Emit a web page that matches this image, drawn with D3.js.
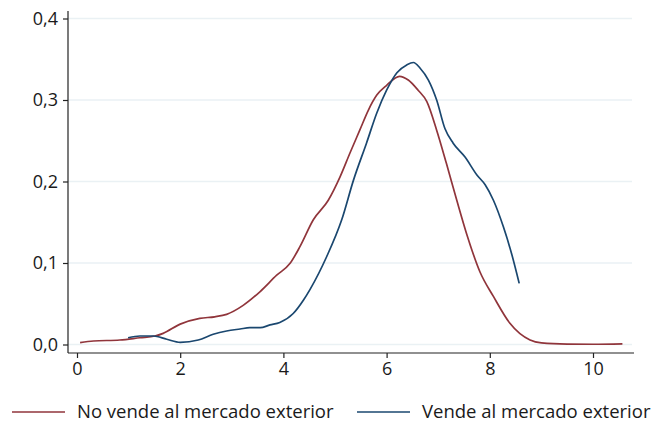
<!DOCTYPE html>
<html>
<head>
<meta charset="utf-8">
<script src="https://cdn.jsdelivr.net/npm/d3@7"></script>
<style>
    body { margin: 0; background: #fff; }
    text { font-family: "Open Sans", "Noto Sans", sans-serif; fill: #1a1a1a; }
</style>
</head>
<body>
<svg id="chart" width="665" height="427"></svg>
<script>
// # Data (kernel density)

var xTicks = [0, 2, 4, 6, 8, 10];
var yTicks = [0, 0.1, 0.2, 0.3, 0.4];

var seriesNames = ['No vende al mercado exterior', 'Vende al mercado exterior'];

var noVendeX = [0.06, 0.32, 0.83, 1.22, 1.51, 1.67, 2.0, 2.38, 2.67, 2.9, 3.22, 3.55, 3.87, 4.13, 4.32,
    4.58, 4.87, 5.1, 5.29, 5.48, 5.65, 5.81, 6.0, 6.25, 6.42, 6.61, 6.78, 6.97, 7.16, 7.36, 7.55,
    7.81, 8.07, 8.39, 8.78, 9.0, 9.5, 10.0, 10.57];
var noVendeY = [0.0022, 0.0043, 0.0055, 0.0083, 0.0104, 0.0137, 0.025, 0.032, 0.034, 0.037, 0.048, 0.065, 0.085, 0.0996, 0.12,
    0.153, 0.177, 0.206, 0.235, 0.263, 0.288, 0.306, 0.318, 0.329, 0.3245, 0.312, 0.298, 0.263, 0.222, 0.177, 0.136,
    0.089, 0.059, 0.026, 0.0055, 0.002, 0.0005, 0.0003, 0.0008];

var vendeX = [0.99, 1.22, 1.48, 1.74, 2.0, 2.35, 2.64, 2.9, 3.16, 3.35, 3.55, 3.74, 3.93, 4.19, 4.39,
    4.52, 4.84, 5.13, 5.36, 5.61, 5.81, 6.0, 6.2, 6.39, 6.52, 6.65, 6.81, 6.97, 7.13, 7.29, 7.52,
    7.75, 7.91, 8.07, 8.26, 8.42, 8.57];
var vendeY = [0.0083, 0.0104, 0.0104, 0.0064, 0.0027, 0.0055, 0.0125, 0.0166, 0.019, 0.0206, 0.0206, 0.024, 0.027, 0.038, 0.0546,
    0.068, 0.108, 0.153, 0.202, 0.247, 0.284, 0.312, 0.3335, 0.343, 0.346, 0.339, 0.3245, 0.300, 0.265, 0.247, 0.230,
    0.208, 0.196, 0.177, 0.145, 0.112, 0.075];

var colors = ['#90353b', '#1a476f'];

// # Frame

var svg = d3.select('#chart');

var xScale = d3.scaleLinear().domain([0, 10]).range([77, 593]);
var yScale = d3.scaleLinear().domain([0, 0.4]).range([344.5, 18.5]);

var plotLeft = 68, plotRight = 634, plotBottom = 353, plotTop = 11;

// gridlines
svg.append('g')
    .selectAll('line')
    .data(yTicks)
    .enter()
    .append('line')
    .attr('x1', plotLeft)
    .attr('x2', 632)
    .attr('y1', d => yScale(d))
    .attr('y2', d => yScale(d))
    .attr('stroke', '#eaf1f4')
    .attr('stroke-width', 1.5);

// lines
var line = d3.line()
    .x(d => xScale(d[0]))
    .y(d => yScale(d[1]))
    .curve(d3.curveMonotoneX);

var noVende = noVendeX.map((x, i) => [x, noVendeY[i]]);
var vende = vendeX.map((x, i) => [x, vendeY[i]]);

[noVende, vende].forEach(function(s, i){
    svg.append('path')
        .datum(s)
        .attr('d', line)
        .attr('fill', 'none')
        .attr('stroke', colors[i])
        .attr('stroke-width', 1.7)
        .attr('stroke-linejoin', 'round');
});

// # Axes

var yAxis = d3.axisLeft(yScale)
    .tickValues(yTicks)
    .tickSize(5)
    .tickPadding(5)
    .tickFormat(d => d3.format('.1f')(d).replace('.', ','));

var gy = svg.append('g')
    .attr('transform', 'translate(' + plotLeft + ',0)')
    .call(yAxis);
gy.select('.domain').remove();
gy.append('line')
    .attr('x1', 0).attr('x2', 0)
    .attr('y1', plotTop).attr('y2', plotBottom)
    .attr('stroke', '#222').attr('stroke-width', 1.2);

var xAxis = d3.axisBottom(xScale)
    .tickValues(xTicks)
    .tickSize(5)
    .tickPadding(4);

var gx = svg.append('g')
    .attr('transform', 'translate(0,' + plotBottom + ')')
    .call(xAxis);
gx.select('.domain').remove();
gx.append('line')
    .attr('x1', plotLeft).attr('x2', plotRight)
    .attr('y1', 0).attr('y2', 0)
    .attr('stroke', '#222').attr('stroke-width', 1.2);

svg.selectAll('.tick line').attr('stroke', '#222').attr('stroke-width', 1.2);
svg.selectAll('.tick text')
    .attr('font-size', 18)
    .attr('font-family', '"Open Sans", "Noto Sans", sans-serif')
    .attr('fill', '#1a1a1a');

// # Legend

var legendX = [12, 357];
var legend = svg.append('g');
seriesNames.forEach(function(name, i){
    legend.append('line')
        .attr('x1', legendX[i]).attr('x2', legendX[i] + 53)
        .attr('y1', 412).attr('y2', 412)
        .attr('stroke', colors[i])
        .attr('stroke-width', 1.7);
    legend.append('text')
        .attr('x', legendX[i] + 65)
        .attr('y', 412)
        .attr('dy', '0.35em')
        .attr('font-size', 18.5)
        .text(name);
});
</script>
</body>
</html>
